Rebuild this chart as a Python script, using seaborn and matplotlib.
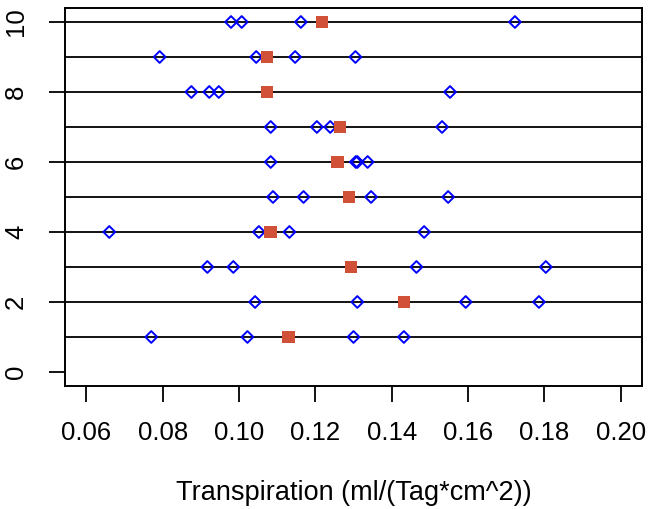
import numpy as np
import pandas as pd
import matplotlib
matplotlib.use("Agg")
import matplotlib.pyplot as plt
import seaborn as sns

# Einzelmessungen pro Gruppe (1..10) und Gruppenmittel
group_ids = [1, 2, 3, 4, 5, 6, 7, 8, 9, 10]
values = [
    [0.0770, 0.1022, 0.1300, 0.1432],
    [0.1042, 0.1310, 0.1594, 0.1786],
    [0.0917, 0.0985, 0.1465, 0.1804],
    [0.0660, 0.1052, 0.1132, 0.1485],
    [0.1089, 0.1169, 0.1346, 0.1548],
    [0.1083, 0.1306, 0.1310, 0.1337],
    [0.1083, 0.1204, 0.1239, 0.1532],
    [0.0875, 0.0922, 0.0947, 0.1553],
    [0.0792, 0.1045, 0.1147, 0.1305],
    [0.0979, 0.1007, 0.1162, 0.1723],
]
means = [0.1130, 0.1433, 0.1294, 0.1082, 0.1288, 0.1258, 0.1265, 0.1074, 0.1073, 0.1218]
x_ticks = [0.06, 0.08, 0.10, 0.12, 0.14, 0.16, 0.18, 0.20]
y_ticks = [0, 2, 4, 6, 8, 10]

pts = pd.DataFrame([(g, v) for g, vs in zip(group_ids, values) for v in vs],
                   columns=["gruppe", "transp"])
mw = pd.DataFrame({"gruppe": group_ids, "transp": means})

sns.set_style("white")
plt.rcParams["font.family"] = ["Liberation Sans", "DejaVu Sans"]
plt.rcParams["text.color"] = "black"
plt.rcParams["axes.labelcolor"] = "black"

fig = plt.figure(figsize=(6.49, 5.09), dpi=100)
ax = fig.add_axes([0.1002, 0.2417, 0.8890, 0.7426])

for g in group_ids:
    ax.axhline(g, color="black", lw=1.3, zorder=1)

sns.scatterplot(data=pts, x="transp", y="gruppe", ax=ax, marker="D", s=36,
                facecolor="none", edgecolor="#0000ff", linewidth=1.4, zorder=3)
sns.scatterplot(data=mw, x="transp", y="gruppe", ax=ax, marker="s", s=80,
                color="#d05038", edgecolor="none", zorder=4)

ax.set_xlim(0.06 - 0.0056, 0.20 + 0.0056)
ax.set_ylim(-0.4, 10.4)
ax.set_xticks(x_ticks)
ax.set_xticklabels([f"{t:.2f}" for t in x_ticks], fontsize=18.5)
ax.set_yticks(y_ticks)
ax.set_yticklabels([str(t) for t in y_ticks], fontsize=18.5, rotation=90, va="center")
ax.tick_params(axis="both", direction="out", length=11.5, width=1.3, color="black",
               labelcolor="black", bottom=True, left=True)
ax.tick_params(axis="x", pad=14)
ax.tick_params(axis="y", pad=15)
ax.set_xlabel("Transpiration (ml/(Tag*cm^2))", fontsize=19.5, labelpad=25)
ax.set_ylabel("")
for sp in ax.spines.values():
    sp.set_visible(True)
    sp.set_color("black")
    sp.set_linewidth(1.4)

fig.savefig("out.png", dpi=100)
